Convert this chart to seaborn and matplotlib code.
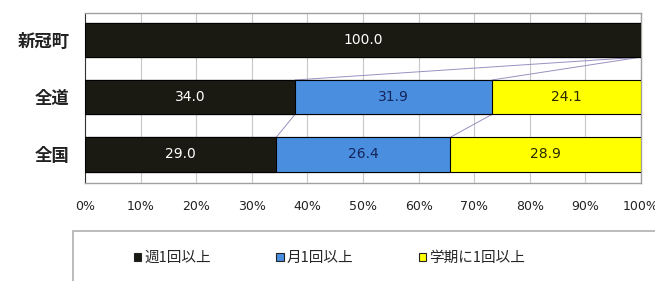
import pandas as pd
import matplotlib.pyplot as plt
import seaborn as sns
from matplotlib.patches import Rectangle

# values (raw shares, drawn as 100% stacked)
regions = ['新冠町', '全道', '全国']
series_names = ['週1回以上', '月1回以上', '学期に1回以上']
weekly = [100.0, 34.0, 29.0]
monthly = [0.0, 31.9, 26.4]
per_term = [0.0, 24.1, 28.9]
colors = ['#1b1a12', '#4a8ee0', '#ffff00']
text_colors = ['white', '#14245a', '#2a2a00']

df = pd.DataFrame({'region': regions, series_names[0]: weekly,
                   series_names[1]: monthly, series_names[2]: per_term})
totals = df[series_names].sum(axis=1)
norm = df[series_names].div(totals, axis=0) * 100
cum = norm.cumsum(axis=1)

sns.set_style('white')
plt.rcParams['font.family'] = ['Noto Sans CJK JP', 'DejaVu Sans']

fig = plt.figure(figsize=(6.55, 2.81), dpi=100)
ax = fig.add_axes([85 / 655, 1 - 183 / 281, 556 / 655, 170 / 281])

bar_h = 0.6
# draw cumulative bars back to front so they stack
for i in reversed(range(3)):
    plot_df = pd.DataFrame({'region': regions, 'val': cum[series_names[i]].values})
    sns.barplot(data=plot_df, x='val', y='region', color=colors[i], width=bar_h,
                edgecolor='black', linewidth=0.8, saturation=1, ax=ax, zorder=3)

# value labels in the middle of each segment
for r in range(3):
    for i, s in enumerate(series_names):
        raw = df.loc[r, s]
        if raw <= 0:
            continue
        left = cum.loc[r, s] - norm.loc[r, s]
        ax.text(left + norm.loc[r, s] / 2, r, f'{raw:.1f}', ha='center', va='center',
                fontsize=10, color=text_colors[i], family='DejaVu Sans', zorder=5)

# series lines between the bars
for r in range(2):
    for s in series_names[:2]:
        ax.plot([cum.loc[r, s], cum.loc[r + 1, s]], [r + bar_h / 2, r + 1 - bar_h / 2],
                color='#9a8fc0', lw=0.7, zorder=2)

ax.set_xlim(0, 100)
ax.set_ylim(2.5, -0.47)
ax.set_xticks(range(0, 101, 10))
ax.set_xticklabels([f'{t}%' for t in range(0, 101, 10)], fontsize=9, color='#222222',
                   family='DejaVu Sans')
ax.tick_params(axis='x', length=0, pad=12)
ax.tick_params(axis='y', length=0, pad=11, labelsize=12.5)
for lab in ax.get_yticklabels():
    lab.set_fontweight('bold')
    lab.set_color('#222222')
ax.set_xlabel('')
ax.set_ylabel('')
ax.grid(axis='x', color='#c8c8c8', lw=0.8, zorder=0)
ax.set_axisbelow(True)
for side in ['top', 'right', 'bottom']:
    ax.spines[side].set_color('#a0a0a0')
    ax.spines[side].set_linewidth(1)
ax.spines['left'].set_color('#333333')

# legend box, running off the right and bottom edge like the original
fig.patches.append(Rectangle((73 / 655, -0.1), 0.95, 1 - 231 / 281 + 0.1,
                             transform=fig.transFigure, fill=False,
                             edgecolor='#b0b0b0', lw=1.2, clip_on=False))
handles = [Rectangle((0, 0), 1, 1, facecolor=c, edgecolor='#222222', lw=0.8) for c in colors]
fig.legend(handles, series_names, loc='center left', bbox_to_anchor=(134 / 655, 1 - 258 / 281),
           ncol=3, frameon=False, fontsize=10.5, handlelength=0.5, handleheight=0.5,
           handletextpad=0.2, columnspacing=4.5, borderaxespad=0, borderpad=0)

fig.savefig('out.png', dpi=100)
